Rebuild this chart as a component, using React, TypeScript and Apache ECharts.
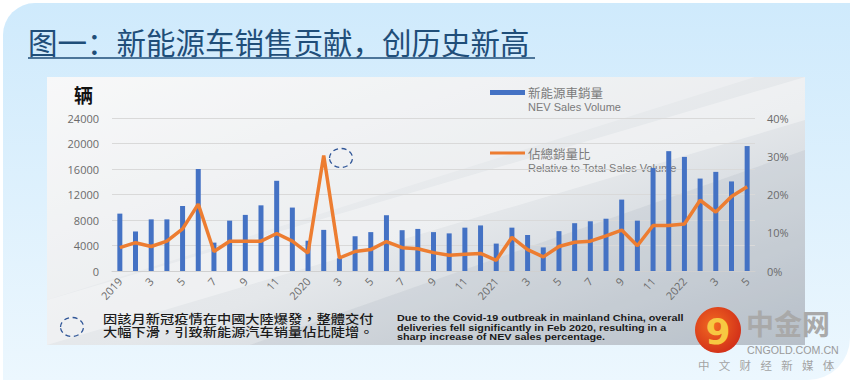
import React, { useEffect, useRef } from "react";
import * as echarts from "echarts";

const months: string[] = [
  "2019", "2", "3", "4", "5", "6", "7", "8", "9", "10", "11", "12",
  "2020", "2", "3", "4", "5", "6", "7", "8", "9", "10", "11", "12",
  "2021", "2", "3", "4", "5", "6", "7", "8", "9", "10", "11", "12",
  "2022", "2", "3", "4", "5",
];

const nevSales: number[] = [
  9000, 6200, 8100, 8100, 10200, 16000, 4450, 7900, 8800, 10300, 14150, 9950,
  4750, 6450, 2000, 5450, 6100, 8750, 6400, 6600, 6100, 5900, 6800, 7150,
  4300, 6800, 5650, 3700, 6250, 7500, 7800, 8200, 11200, 7900, 16150, 18800,
  17900, 14500, 15550, 14050, 19600,
];

const shareOfTotal: number[] = [
  6.1, 7.4, 6.4, 7.8, 11.0, 17.5, 5.1, 7.8, 7.8, 7.8, 9.8, 7.8,
  4.7, 30.2, 3.4, 5.1, 5.6, 7.7, 6.1, 5.8, 4.8, 4.1, 4.4, 4.6,
  2.8, 8.8, 5.6, 3.7, 6.4, 7.5, 7.8, 9.2, 10.7, 6.6, 11.9, 11.9,
  12.3, 18.5, 15.4, 19.5, 22.0,
];

const leftTicks = { min: 0, max: 24000, interval: 4000 };
const rightTicks = { min: 0, max: 40, interval: 10 };

const titleText = "图一：新能源车销售贡献，创历史新高";
const unitText = "辆";
const legendBar = ["新能源車銷量", "NEV Sales Volume"];
const legendLine = ["佔總銷量比", "Relative to Total Sales Volume"];
const noteZh = ["因該月新冠疫情在中國大陸爆發，整體交付", "大幅下滑，引致新能源汽车销量佔比陡增。"];
const noteEn = [
  "Due to the Covid-19 outbreak in mainland China, overall",
  "deliveries fell significantly in Feb 2020, resulting in a",
  "sharp increase of NEV sales percentage.",
];
const logoTagline = ["中", "文", "财", "经", "新", "媒", "体"];

const BLUE = "#4472c4";
const ORANGE = "#ed7d31";
const TICK = "#6b6b6b";

export default function App() {
  const ref = useRef<HTMLDivElement>(null);

  useEffect(() => {
    if (!ref.current) return;
    const chart = echarts.init(ref.current, null, { renderer: "svg" });

    const taglineEls = logoTagline.map((ch, i) => ({
      type: "text",
      x: 698 + i * 20.8,
      y: 364.5,
      style: { text: ch, font: "11.5px 'Noto Sans CJK SC'", fill: "#a3a3a3", textVerticalAlign: "middle" },
    }));

    const option: any = {
      animation: false,
      grid: { left: 112, right: 97, top: 118, bottom: 110 },
      xAxis: {
        type: "category",
        data: months,
        axisLine: { show: true, lineStyle: { color: "#d0d0d0" } },
        axisTick: { show: false },
        axisLabel: {
          interval: 1,
          rotate: 48,
          margin: 8,
          color: TICK,
          fontSize: 11,
          fontFamily: "Open Sans",
        },
      },
      yAxis: [
        {
          type: "value",
          ...leftTicks,
          axisLine: { show: false },
          axisTick: { show: false },
          splitLine: { lineStyle: { color: "#d9d9d9", width: 1 } },
          axisLabel: {
            color: TICK,
            fontSize: 11,
            fontFamily: "Open Sans",
            margin: 13,
            formatter: (v: number) => String(v),
          },
        },
        {
          type: "value",
          ...rightTicks,
          axisLine: { show: false },
          axisTick: { show: false },
          splitLine: { show: false },
          axisLabel: { color: TICK, fontSize: 11, fontFamily: "Open Sans", margin: 12, formatter: "{value}%" },
        },
      ],
      series: [
        {
          type: "bar",
          name: legendBar[1],
          data: nevSales,
          barWidth: 5,
          itemStyle: { color: BLUE },
          yAxisIndex: 0,
        },
        {
          type: "line",
          name: legendLine[1],
          data: shareOfTotal,
          yAxisIndex: 1,
          symbol: "none",
          lineStyle: { color: ORANGE, width: 3.5 },
          z: 3,
        },
      ],
      graphic: [
        // outer light-blue background
        {
          type: "rect",
          z: -20,
          silent: true,
          shape: { x: 3, y: 3, width: 847, height: 377, r: [32, 0, 42, 0] },
          style: {
            fill: new echarts.graphic.LinearGradient(0, 0, 0, 1, [
              { offset: 0, color: "#cfeafc" },
              { offset: 1, color: "#ecf7fe" },
            ]),
          },
        },
        // inner panel
        {
          type: "rect",
          z: -19,
          silent: true,
          shape: { x: 47, y: 77, width: 758, height: 268 },
          style: {
            fill: new echarts.graphic.LinearGradient(0, 0, 1, 1, [
              { offset: 0, color: "#f5f6f7" },
              { offset: 0.55, color: "#e4e7ea" },
              { offset: 1, color: "#bcc4cd" },
            ]),
          },
        },
        {
          type: "polygon",
          z: -18,
          silent: true,
          shape: { points: [[47, 300], [805, 77], [805, 120], [47, 345]] },
          style: { fill: "rgba(255,255,255,0.35)" },
        },
        {
          type: "polygon",
          z: -18,
          silent: true,
          shape: { points: [[47, 77], [755, 77], [47, 300]] },
          style: { fill: "rgba(255,255,255,0.25)" },
        },
        {
          type: "polygon",
          z: -18,
          silent: true,
          shape: { points: [[250, 345], [805, 150], [805, 345]] },
          style: { fill: "rgba(160,170,182,0.18)" },
        },
        // title
        {
          type: "text",
          x: 28,
          y: 41,
          style: {
            text: titleText,
            font: "normal 29.5px 'Noto Sans CJK SC'",
            fill: "#1f4e79",
            textVerticalAlign: "middle",
          },
        },
        {
          type: "line",
          shape: { x1: 28, y1: 58, x2: 535, y2: 58 },
          style: { stroke: "#1f4e79", lineWidth: 1.5 },
        },
        // unit
        {
          type: "text",
          x: 74,
          y: 94,
          style: { text: unitText, font: "bold 19px 'Noto Sans CJK SC'", fill: "#111", textVerticalAlign: "middle" },
        },
        // legend
        { type: "rect", shape: { x: 490, y: 90, width: 35, height: 5 }, style: { fill: BLUE } },
        {
          type: "text",
          x: 528,
          y: 92,
          style: { text: legendBar[0], font: "12.5px 'Noto Sans CJK TC'", fill: "#7a7a7a", textVerticalAlign: "middle" },
        },
        {
          type: "text",
          x: 528,
          y: 107,
          style: { text: legendBar[1], font: "11px 'Liberation Sans'", fill: "#7a7a7a", textVerticalAlign: "middle" },
        },
        { type: "line", shape: { x1: 490, y1: 153, x2: 525, y2: 153 }, style: { stroke: ORANGE, lineWidth: 3 } },
        {
          type: "text",
          x: 528,
          y: 153,
          style: { text: legendLine[0], font: "12.5px 'Noto Sans CJK TC'", fill: "#7a7a7a", textVerticalAlign: "middle" },
        },
        {
          type: "text",
          x: 528,
          y: 168,
          style: { text: legendLine[1], font: "11px 'Liberation Sans'", fill: "#7a7a7a", textVerticalAlign: "middle" },
        },
        // dashed circle annotations
        {
          type: "ellipse",
          z: 10,
          shape: { cx: 341, cy: 158, rx: 11.5, ry: 9.5 },
          style: { fill: "none", stroke: "#2f5597", lineWidth: 1.3, lineDash: [5, 3.5] },
        },
        {
          type: "ellipse",
          shape: { cx: 72, cy: 327, rx: 11.5, ry: 9.5 },
          style: { fill: "none", stroke: "#2f5597", lineWidth: 1.3, lineDash: [5, 3.5] },
        },
        // notes
        {
          type: "text",
          x: 103,
          y: 325,
          scaleX: 1.14,
          style: {
            text: noteZh.join("\n"),
            font: "500 12.5px 'Noto Sans CJK TC'",
            lineHeight: 13.5,
            fill: "#1a1a1a",
            textVerticalAlign: "middle",
          },
        },
        {
          type: "text",
          x: 397,
          y: 327.5,
          scaleX: 1.15,
          style: {
            text: noteEn.join("\n"),
            font: "bold 9.4px 'Liberation Sans'",
            lineHeight: 9.6,
            fill: "#1a1a1a",
            textVerticalAlign: "middle",
          },
        },
        // logo
        {
          type: "circle",
          shape: { cx: 718, cy: 330, r: 23 },
          style: {
            fill: new echarts.graphic.RadialGradient(0.4, 0.4, 0.7, [
              { offset: 0, color: "#f26a21" },
              { offset: 1, color: "#cf2a18" },
            ]),
          },
        },
        {
          type: "text",
          x: 718,
          y: 331,
          style: {
            text: "9",
            font: "bold 36px 'DejaVu Sans'",
            fill: "#f7c842",
            textAlign: "center",
            textVerticalAlign: "middle",
          },
        },
        {
          type: "text",
          x: 746,
          y: 323,
          style: { text: "中金网", font: "bold 28px 'Noto Sans CJK SC'", fill: "#a9a9a9", textVerticalAlign: "middle" },
        },
        {
          type: "text",
          x: 747,
          y: 350,
          scaleX: 0.97,
          style: { text: "CNGOLD.COM.CN", font: "11px 'Liberation Sans'", fill: "#9a9a9a", textVerticalAlign: "middle" },
        },
        ...taglineEls,
      ],
    };

    chart.setOption(option);
    return () => chart.dispose();
  }, []);

  return (
    <div
      ref={ref}
      style={{ position: "fixed", left: 0, top: 0, width: 852, height: 381, background: "#ffffff" }}
    />
  );
}
